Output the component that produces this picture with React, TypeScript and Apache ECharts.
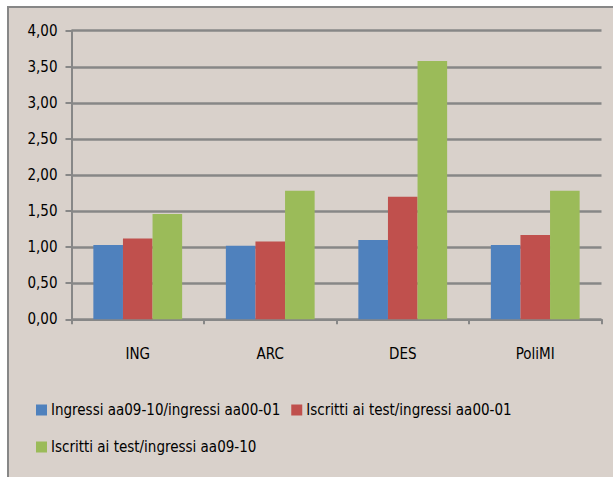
import React, { useEffect, useRef } from "react";
import * as echarts from "echarts";

const categories = ["ING", "ARC", "DES", "PoliMI"];
const seriesNames = [
  "Ingressi aa09-10/ingressi aa00-01",
  "Iscritti ai test/ingressi aa00-01",
  "Iscritti ai test/ingressi aa09-10",
];
const ingressiRatio = [1.03, 1.02, 1.1, 1.03];
const iscrittiVs0001 = [1.12, 1.08, 1.7, 1.17];
const iscrittiVs0910 = [1.46, 1.78, 3.58, 1.78];
const colors = ["#4f81bd", "#c0504d", "#9bbb59"];

const FONT = "'DejaVu Sans Condensed', 'Liberation Sans Narrow', sans-serif";
const GRID_COLOR = "#878787";

export default function App() {
  const ref = useRef<HTMLDivElement>(null);
  useEffect(() => {
    if (!ref.current) return;
    const chart = echarts.init(ref.current, null, { renderer: "svg" });
    const values = [ingressiRatio, iscrittiVs0001, iscrittiVs0910];
    chart.setOption({
      animation: false,
      backgroundColor: "transparent",
      textStyle: { fontFamily: FONT },
      grid: { left: 71.5, right: 11.5, top: 30.7, bottom: 157.7, containLabel: false },
      xAxis: {
        type: "category",
        data: categories,
        boundaryGap: true,
        axisLine: { show: true, lineStyle: { color: GRID_COLOR, width: 2 } },
        axisTick: { show: true, length: 5, lineStyle: { color: GRID_COLOR, width: 2 } },
        axisLabel: { color: "#000", fontSize: 15, margin: 27, fontFamily: FONT },
        splitLine: { show: false },
      },
      yAxis: {
        type: "value",
        min: 0,
        max: 4,
        interval: 0.5,
        axisLine: { show: true, lineStyle: { color: GRID_COLOR, width: 2 } },
        axisTick: { show: true, length: 6, lineStyle: { color: GRID_COLOR, width: 2 } },
        axisLabel: {
          color: "#000",
          fontSize: 15,
          margin: 14,
          fontFamily: FONT,
          formatter: (v: number) => v.toFixed(2).replace(".", ","),
        },
        splitLine: { show: true, lineStyle: { color: GRID_COLOR, width: 2.5 } },
      },
      legend: [
        {
          data: [seriesNames[0], seriesNames[1]],
          left: 36,
          top: 402,
          padding: 0,
          itemWidth: 11,
          itemHeight: 11,
          itemGap: 11,
          icon: "rect",
          textStyle: { color: "#000", fontSize: 15, lineHeight: 16, fontFamily: FONT, padding: [0, 0, 0, -1] },
        },
        {
          data: [seriesNames[2]],
          left: 36,
          top: 439,
          padding: 0,
          itemWidth: 11,
          itemHeight: 11,
          icon: "rect",
          textStyle: { color: "#000", fontSize: 15, lineHeight: 16, fontFamily: FONT, padding: [0, 0, 0, -1] },
        },
      ],
      series: seriesNames.map((name, i) => ({
        name,
        type: "bar",
        data: values[i],
        barGap: "0%",
        barCategoryGap: "33%",
        itemStyle: { color: colors[i] },
      })),
    });
    return () => chart.dispose();
  }, []);

  return (
    <div style={{ position: "fixed", left: 0, top: 0, width: 613, height: 477, background: "#fff", overflow: "hidden" }}>
      <div
        style={{
          position: "absolute",
          left: 7,
          top: 6,
          width: 640,
          height: 500,
          border: `2px solid ${GRID_COLOR}`,
          background: "#d9d1cb",
          boxSizing: "border-box",
        }}
      />
      <div ref={ref} style={{ position: "absolute", left: 0, top: 0, width: 613, height: 477 }} />
    </div>
  );
}
